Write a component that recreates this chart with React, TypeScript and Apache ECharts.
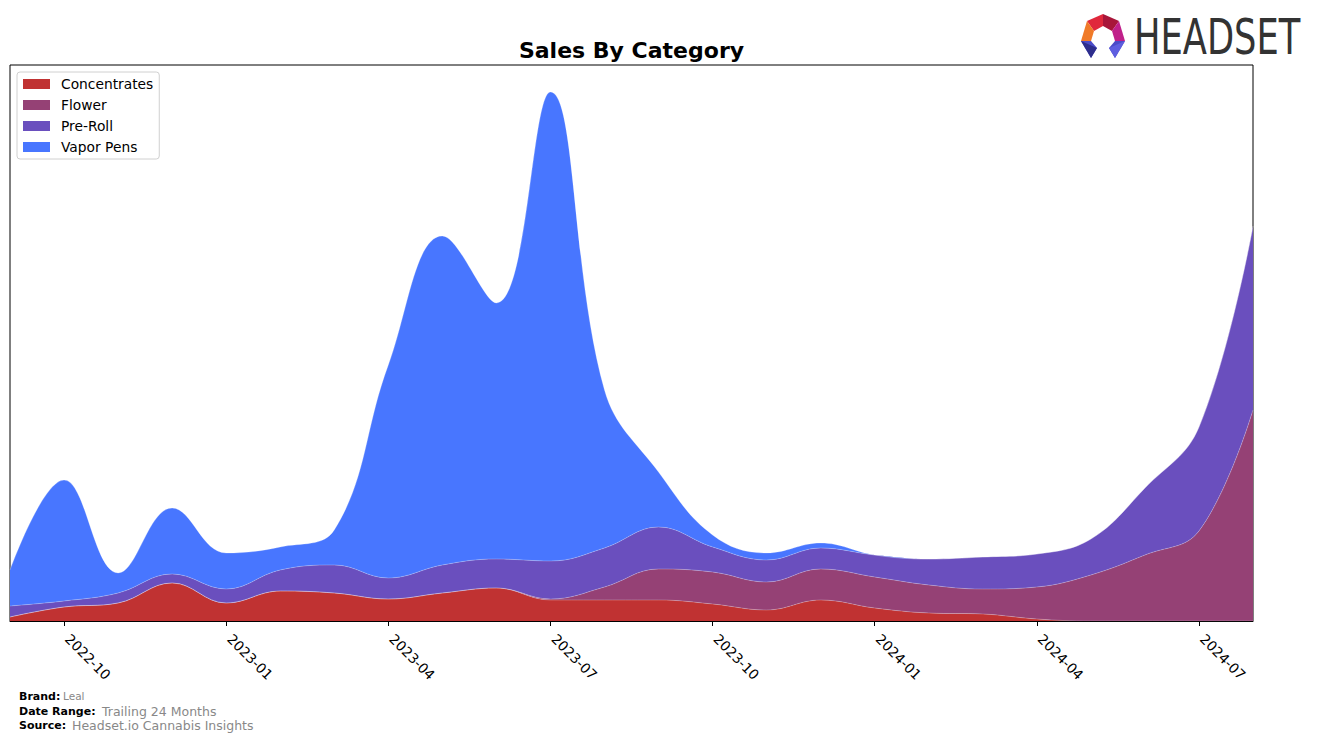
import React, { useEffect, useRef } from "react";
import * as echarts from "echarts";

const months = [
  "2022-09", "2022-10", "2022-11", "2022-12",
  "2023-01", "2023-02", "2023-03", "2023-04", "2023-05", "2023-06",
  "2023-07", "2023-08", "2023-09", "2023-10", "2023-11", "2023-12",
  "2024-01", "2024-02", "2024-03", "2024-04", "2024-05", "2024-06",
  "2024-07", "2024-08",
];

const concentrates = [4, 14, 18, 38, 18, 30, 28, 22, 28, 33, 21, 21, 21, 17, 11, 21, 13, 8, 7, 2, 0, 0, 0, 0];
const flower = [0, 0, 0, 0, 0, 0, 0, 0, 0, 0, 1, 13, 31, 32, 28, 31, 31, 28, 25, 32, 46, 66, 90, 211];
const preRoll = [11, 6, 10, 9, 14, 21, 28, 21, 28, 29, 38, 39, 42, 25, 22, 21, 22, 26, 32, 33, 36, 67, 104, 184];
const vaporPens = [36, 121, 20, 66, 36, 23, 35, 213, 329, 256, 469, 158, 55, 12, 7, 5, 0, 0, 0, 0, 0, 0, 0, 0];

const seriesNames = ["Concentrates", "Flower", "Pre-Roll", "Vapor Pens"];
const seriesColors = ["#C03232", "#954175", "#6A4FBE", "#4876FF"];
const quarterMonths = ["01", "04", "07", "10"];

const FONT = "DejaVu Sans";

export default function App() {
  const ref = useRef<HTMLDivElement>(null);

  useEffect(() => {
    if (!ref.current) return;
    const chart = echarts.init(ref.current, null, { renderer: "svg" });
    const values = [concentrates, flower, preRoll, vaporPens];
    const isQuarter = (index: number, value: string) =>
      quarterMonths.includes(String(months[index]).slice(5, 7));

    chart.setOption({
      animation: false,
      backgroundColor: "#ffffff",
      grid: {
        left: 10,
        top: 65,
        width: 1243,
        height: 556,
        show: true,
        borderColor: "#000",
        borderWidth: 1,
        containLabel: false,
      },
      legend: {
        orient: "vertical",
        left: 17,
        top: 72,
        padding: [5, 6, 5, 6],
        itemWidth: 27,
        itemHeight: 10,
        itemGap: 7,
        icon: "rect",
        borderColor: "#d0d0d0",
        borderWidth: 1,
        borderRadius: 3,
        backgroundColor: "rgba(255,255,255,0.85)",
        textStyle: { fontFamily: FONT, fontSize: 13.8, color: "#000", padding: [0, 0, 0, 6] },
        data: seriesNames,
      },
      xAxis: {
        type: "category",
        data: months,
        boundaryGap: false,
        axisLine: { show: true, lineStyle: { color: "#000", width: 1 } },
        axisTick: {
          show: true,
          length: 5,
          interval: isQuarter,
          lineStyle: { color: "#000" },
        },
        axisLabel: {
          interval: isQuarter,
          rotate: -45,
          margin: 12,
          padding: [0, 0, 0, 5],
          fontFamily: FONT,
          fontSize: 13.8,
          color: "#000",
        },
        splitLine: { show: false },
      },
      yAxis: {
        type: "value",
        min: 0,
        max: 556,
        show: false,
        splitLine: { show: false },
      },
      series: seriesNames.map((name, i) => ({
        name,
        type: "line",
        stack: "total",
        data: values[i],
        smooth: 0.4,
        symbol: "none",
        itemStyle: { color: seriesColors[i] },
        lineStyle: { width: 0.7, color: "rgba(255,255,255,0.35)" },
        areaStyle: { color: seriesColors[i], opacity: 1 },
        z: 2,
      })),
      graphic: [
        {
          type: "text",
          x: 631.5,
          y: 50,
          style: {
            text: "Sales By Category",
            fontFamily: FONT,
            fontSize: 22,
            fontWeight: "bold",
            fill: "#000",
            textAlign: "center",
            textVerticalAlign: "middle",
          },
        },
        // footer
        { type: "text", x: 19, y: 696, style: { text: "Brand:", fontFamily: FONT, fontSize: 11, fontWeight: "bold", fill: "#000", textVerticalAlign: "middle" } },
        { type: "text", x: 63, y: 696, style: { text: "Leal", fontFamily: FONT, fontSize: 10.5, fill: "#888", textVerticalAlign: "middle" } },
        { type: "text", x: 19, y: 711, style: { text: "Date Range:", fontFamily: FONT, fontSize: 11, fontWeight: "bold", fill: "#000", textVerticalAlign: "middle" } },
        { type: "text", x: 102, y: 711, style: { text: "Trailing 24 Months", fontFamily: FONT, fontSize: 12.5, fill: "#888", textVerticalAlign: "middle" } },
        { type: "text", x: 19, y: 725, style: { text: "Source:", fontFamily: FONT, fontSize: 11, fontWeight: "bold", fill: "#000", textVerticalAlign: "middle" } },
        { type: "text", x: 72, y: 725, style: { text: "Headset.io Cannabis Insights", fontFamily: FONT, fontSize: 12.5, fill: "#888", textVerticalAlign: "middle" } },
        // logo icon
        { type: "polygon", shape: { points: [[1103, 14], [1087, 21], [1094, 31], [1103, 26]] }, style: { fill: "#E0283C" } },
        { type: "polygon", shape: { points: [[1103, 14], [1119, 21], [1112, 31], [1103, 26]] }, style: { fill: "#A8163A" } },
        { type: "polygon", shape: { points: [[1087, 21], [1081, 41], [1091, 41], [1094, 31]] }, style: { fill: "#F07A28" } },
        { type: "polygon", shape: { points: [[1119, 21], [1125, 41], [1115, 41], [1112, 31]] }, style: { fill: "#C0208A" } },
        { type: "polygon", shape: { points: [[1081, 41], [1091, 41], [1097, 48], [1091, 58]] }, style: { fill: "#4B4BC8" } },
        { type: "polygon", shape: { points: [[1125, 41], [1115, 41], [1109, 48], [1115, 58]] }, style: { fill: "#4B4BC8" } },
        { type: "polygon", shape: { points: [[1081, 41], [1097, 48], [1091, 58]] }, style: { fill: "#2E2E8C" } },
        { type: "polygon", shape: { points: [[1125, 41], [1109, 48], [1115, 58]] }, style: { fill: "#5E5EE0" } },
        {
          type: "text",
          x: 1134,
          y: 37,
          scaleX: 0.8,
          style: {
            text: "HEADSET",
            fontFamily: "DejaVu Sans Condensed",
            fontSize: 49,
            fill: "#333333",
            textVerticalAlign: "middle",
          },
        },
      ],
    });

    return () => {
      chart.dispose();
    };
  }, []);

  return (
    <div
      ref={ref}
      style={{ position: "absolute", left: 0, top: 0, width: 1317, height: 741 }}
    />
  );
}
